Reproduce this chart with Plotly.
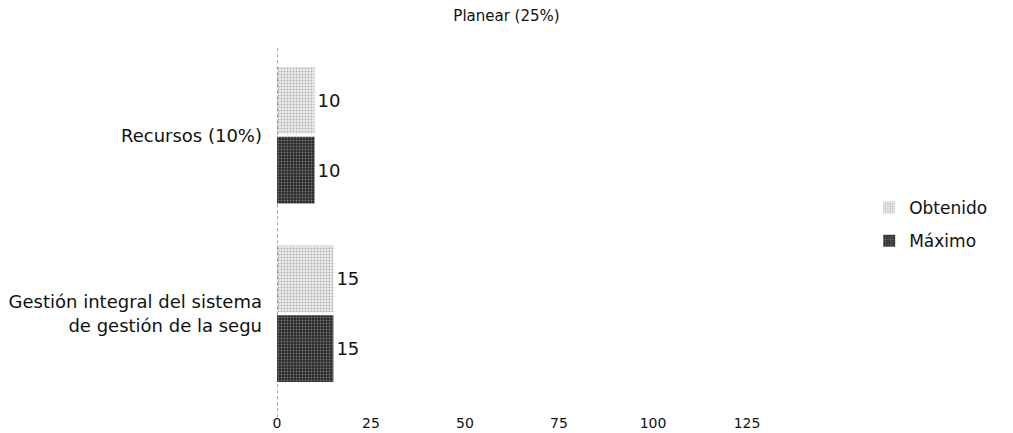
import plotly.graph_objects as go

categories = ["Recursos (10%)", "Gestión integral del sistema<br>de gestión de la segu"]
obtenido = [10, 15]
maximo = [10, 15]
tick_vals = [0, 25, 50, 75, 100, 125]
title_text = "Planear (25%)"

FONT = "DejaVu Sans, Arial, sans-serif"

fig = go.Figure()
fig.add_trace(go.Bar(
    y=categories, x=obtenido, orientation="h", name="Obtenido", legendgroup="a",
    text=[str(v) for v in obtenido], textposition="outside",
    textfont=dict(size=18, color="#111", family=FONT),
    marker=dict(color="#e4e4e4", line=dict(width=0),
                pattern=dict(shape=".", fgcolor="#7a7a7a", bgcolor="#ececec", size=3, solidity=0.35)),
))
fig.add_trace(go.Bar(
    y=categories, x=maximo, orientation="h", name="Máximo", legendgroup="b",
    text=[str(v) for v in maximo], textposition="outside",
    textfont=dict(size=18, color="#111", family=FONT),
    marker=dict(color="#333", line=dict(width=0),
                pattern=dict(shape=".", fgcolor="#c8c8c8", bgcolor="#2a2a2a", size=3, solidity=0.3)),
))

fig.add_shape(type="line", xref="x", yref="paper", x0=0, x1=0, y0=-0.04, y1=1.0,
              line=dict(color="#444", width=1, dash="dot"))

fig.update_layout(
    width=1013, height=433,
    paper_bgcolor="white", plot_bgcolor="white",
    font=dict(family=FONT, size=14, color="#111"),
    title=dict(text=title_text, x=0.5, xanchor="center", yref="container", y=0.975, yanchor="top",
               font=dict(size=15, color="#111", family=FONT)),
    barmode="group", bargap=0.22, bargroupgap=0.04,
    margin=dict(l=277, r=172, t=46, b=30, autoexpand=False),
    showlegend=True,
    legend=dict(x=1.05, y=0.50, xanchor="left", yanchor="middle",
                font=dict(size=17, color="#111", family=FONT), tracegroupgap=8,
                bgcolor="rgba(0,0,0,0)"),
    xaxis=dict(range=[0, 150], tickvals=tick_vals, ticktext=[str(t) for t in tick_vals],
               showgrid=False, zeroline=False, showline=False, ticks="", automargin=False,
               tickfont=dict(size=14, color="#111", family=FONT), ticklabelstandoff=10),
    yaxis=dict(autorange="reversed", showgrid=False, zeroline=False, showline=False, automargin=False,
               ticks="", ticklabelstandoff=14, tickfont=dict(size=18, color="#111", family=FONT)),
)

fig.write_html("out.html", config={"displayModeBar": False},
               post_script="document.body.style.margin='0';document.body.style.overflow='hidden';")
